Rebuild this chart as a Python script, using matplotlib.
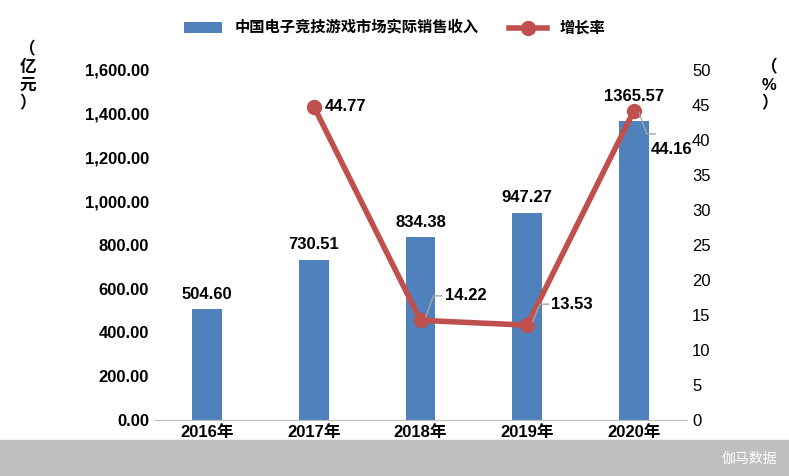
import matplotlib
matplotlib.use("Agg")
import matplotlib.pyplot as plt
from matplotlib.patches import Rectangle

plt.rcParams["font.family"] = ["Liberation Sans", "Noto Sans CJK SC"]

years = ["2016年", "2017年", "2018年", "2019年", "2020年"]
revenue = [504.60, 730.51, 834.38, 947.27, 1365.57]
growth_years = ["2017年", "2018年", "2019年", "2020年"]
growth = [44.77, 14.22, 13.53, 44.16]

fig = plt.figure(figsize=(7.89, 4.76), dpi=100)
ax = fig.add_axes([0.195, 0.118, 0.676, 0.735])
x = list(range(len(years)))
ax.bar(x, revenue, width=0.28, color="#4F81BD", zorder=2, label="中国电子竞技游戏市场实际销售收入")
ax.set_ylim(0, 1600)
ax.set_yticks(range(0, 1601, 200))
ax.set_yticklabels([f"{v:,.2f}" for v in range(0, 1601, 200)], fontsize=12, fontweight="bold")
ax.set_xlim(-0.5, 4.5)
ax.set_xticks(x)
ax.set_xticklabels(years, fontsize=12, fontweight="bold")
for s in ["top", "right", "left"]:
    ax.spines[s].set_visible(False)
ax.spines["bottom"].set_color("#BFBFBF")
ax.tick_params(axis="y", length=0)
ax.tick_params(axis="x", length=0)
boffs = [35, 35, 35, 35, 80]
for xi, v, d in zip(x, revenue, boffs):
    ax.text(xi, v + d, f"{v:.2f}", ha="center", va="bottom", fontsize=12, fontweight="bold", zorder=5)

ax2 = ax.twinx()
gx = [years.index(g) for g in growth_years]
ax2.plot(gx, growth, color="#C0504D", lw=4, marker="o", ms=10, zorder=3, label="增长率")
ax2.set_ylim(0, 50)
ax2.set_yticks(range(0, 51, 5))
ax2.set_yticklabels([str(v) for v in range(0, 51, 5)], fontsize=12)
for s in ["top", "right", "left", "bottom"]:
    ax2.spines[s].set_visible(False)
ax2.tick_params(axis="y", length=0)
offs = [(0.3, 0), (0.42, 3.5), (0.42, 3.0), (0.35, -5.5)]
for xi, v, (dx, dy) in zip(gx, growth, offs):
    ax2.text(xi + dx, v + dy, f"{v:.2f}", ha="center", va="center", fontsize=12, fontweight="bold")
    if dy != 0:
        ax2.plot([xi + 0.05, xi + 0.12, xi + 0.2], [v + 0.5, v + dy, v + dy] if dy > 0 else
                 [v - 0.3, v + dy * 0.6, v + dy * 0.6], color="#A6A6A6", lw=1, zorder=4)

h1, l1 = ax.get_legend_handles_labels()
h2, l2 = ax2.get_legend_handles_labels()
fig.legend(h1 + h2, l1 + l2, loc="upper center", bbox_to_anchor=(0.5, 0.985), ncol=2,
           frameon=False, prop={"size": 11, "weight": "bold"}, handlelength=2.5)

fig.text(0.035, 0.84, "（\n亿\n元\n）", ha="center", va="center", fontsize=12, fontweight="bold", linespacing=1.2)
fig.text(0.975, 0.82, "（\n%\n）", ha="center", va="center", fontsize=12, fontweight="bold", linespacing=1.2)

fig.patches.append(Rectangle((0, 0), 1, 0.076, transform=fig.transFigure, color="#BFBFBF", zorder=0))
fig.text(0.985, 0.035, "伽马数据", ha="right", va="center", fontsize=10, color="white")

fig.savefig("out.png", dpi=100)
